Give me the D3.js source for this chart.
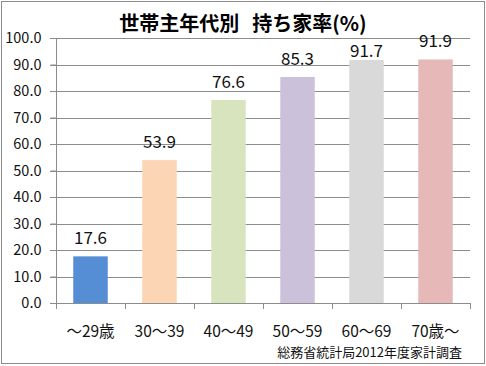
<!DOCTYPE html>
<html><head><meta charset="utf-8">
<script src="https://cdn.jsdelivr.net/npm/d3@7"></script>
<style>body{margin:0;background:#fff}svg{display:block}</style>
</head><body>
<script>
const categories = ["～29歳","30～39","40～49","50～59","60～69","70歳～"];
const values = [17.6, 53.9, 76.6, 85.3, 91.7, 91.9];
const colors = ["#558ed5","#fcd5b5","#d7e4bd","#ccc1da","#d9d9d9","#e6b9b8"];
const yTicks = [0,10,20,30,40,50,60,70,80,90,100];
const titleParts = ["世帯主年代別", "持ち家率(%)"];
const source = "総務省統計局2012年度家計調査";

(function(){
const W = 486, H = 366;
const font = "'Noto Sans CJK JP', 'Noto Sans', sans-serif";
const svg = d3.select("body").append("svg").attr("width", W).attr("height", H);
svg.append("rect").attr("x",1.5).attr("y",1.5).attr("width",W-3).attr("height",H-4)
  .attr("fill","#fff").attr("stroke","#8c8c8c").attr("stroke-width",1);

const pl = 56, pr = 470, pt = 38, pb = 303;
const x = d3.scaleBand().domain(categories).range([pl,pr]).paddingInner(0.5).paddingOuter(0.25);
const y = d3.scaleLinear().domain([0,100]).range([pb, pt]);

svg.append("g").selectAll("line").data(yTicks).join("line")
  .attr("x1", pl-6).attr("x2", pr).attr("y1", d=>Math.round(y(d))+0.5).attr("y2", d=>Math.round(y(d))+0.5)
  .attr("stroke","#8c8c8c").attr("stroke-width",1);

const ya = svg.append("g").attr("transform",`translate(${pl+0.5},0)`)
  .call(d3.axisLeft(y).tickValues(yTicks).tickFormat(d3.format(".1f")).tickSize(6).tickPadding(9));
ya.select(".domain").attr("stroke","#8c8c8c").attr("d",`M0,${pt}V${pb}`);
ya.selectAll(".tick line").attr("stroke","#8c8c8c");
ya.selectAll("text").attr("font-family",font).attr("font-size",14.5).attr("fill","#111");

const xa = svg.append("g").attr("transform",`translate(0,${pb+0.5})`)
  .call(d3.axisBottom(x).tickSize(0).tickPadding(22));
xa.select(".domain").remove();
xa.selectAll("text").attr("font-family",font).attr("font-size",15.5).attr("fill","#111");
const bounds = d3.range(categories.length+1).map(i=>pl + i*(pr-pl)/categories.length);
svg.append("g").selectAll("line").data(bounds).join("line")
  .attr("x1",d=>Math.round(d)+0.5).attr("x2",d=>Math.round(d)+0.5).attr("y1",pb).attr("y2",pb+6)
  .attr("stroke","#8c8c8c");

svg.append("g").selectAll("rect").data(values).join("rect")
  .attr("x",(d,i)=>x(categories[i])).attr("width",x.bandwidth())
  .attr("y",d=>y(d)).attr("height",d=>pb-y(d))
  .attr("fill",(d,i)=>colors[i]);

svg.append("line").attr("x1",pl-6).attr("x2",pr).attr("y1",pb+0.5).attr("y2",pb+0.5).attr("stroke","#8c8c8c");

// title
const t = svg.append("text").attr("x",243).attr("y",31).attr("text-anchor","middle")
  .attr("font-family",font).attr("font-size",20).attr("font-weight","bold").attr("fill","#000");
t.append("tspan").text(titleParts[0]);
t.append("tspan").attr("dx",13).text(titleParts[1]);
const tb = t.node().getBBox();

// value labels, nudged closer to the bar if they would hit the title
const labels = svg.append("g").selectAll("text").data(values).join("text")
  .attr("x",(d,i)=>x(categories[i])+x.bandwidth()/2).attr("y",d=>y(d)-12)
  .attr("text-anchor","middle").attr("font-family",font).attr("font-size",17).attr("fill","#111")
  .text(d=>d3.format(".1f")(d));
labels.each(function(d){
  const b = this.getBBox();
  const hit = b.x < tb.x + tb.width && b.x + b.width > tb.x && b.y < tb.y + tb.height - 2;
  if (hit) d3.select(this).attr("y", y(d) - 3);
});

svg.append("text").attr("x",462).attr("y",357).attr("text-anchor","end")
  .attr("font-family",font).attr("font-size",13).attr("fill","#111").text(source);
})();
</script>
</body></html>
